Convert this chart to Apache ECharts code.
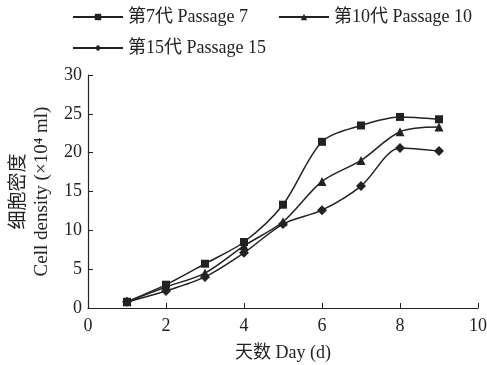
<!DOCTYPE html>
<html><head><meta charset="utf-8">
<script src="https://cdn.jsdelivr.net/npm/echarts@6/dist/echarts.min.js"></script>
<style>html,body{margin:0;padding:0;background:#fff}#c{width:487px;height:365px}</style>
</head><body><div id="c"></div>
<script>
const days = [1, 2, 3, 4, 5, 6, 7, 8, 9];
const passage7 = [0.8, 3.0, 5.7, 8.5, 13.3, 21.4, 23.5, 24.6, 24.3];
const passage10 = [0.8, 2.7, 4.5, 8.0, 11.1, 16.3, 19.0, 22.7, 23.3];
const passage15 = [0.8, 2.2, 4.0, 7.1, 10.8, 12.6, 15.7, 20.6, 20.2];
const seriesNames = ['第7代 Passage 7', '第10代 Passage 10', '第15代 Passage 15'];
const xTicks = [0, 2, 4, 6, 8, 10];
const yTicks = [0, 5, 10, 15, 20, 25, 30];

const font = '"Liberation Serif", "Times New Roman", "Noto Sans CJK SC", serif';
const ink = '#222';
const chart = echarts.init(document.getElementById('c'));
function mk(name, vals, sym, size) {
  return {
    name: name, type: 'line', smooth: 0.3,
    data: days.map((d, i) => [d, vals[i]]),
    symbol: sym, symbolSize: size,
    lineStyle: {color: ink, width: 1.5},
    itemStyle: {color: ink},
    emphasis: {disabled: true}
  };
}
chart.setOption({
  animation: false,
  legend: [
    {data: [seriesNames[0], seriesNames[1]], left: 72, top: 8, padding: 0, itemWidth: 50, itemHeight: 8, itemGap: 30,
     textStyle: {fontFamily: font, fontSize: 18, color: ink}},
    {data: [seriesNames[2]], left: 72, top: 39, padding: 0, itemWidth: 50, itemHeight: 8,
     textStyle: {fontFamily: font, fontSize: 18, color: ink}}
  ],
  grid: {left: 88, right: 9, top: 75, bottom: 57, containLabel: false, outerBoundsMode: 'none'},
  xAxis: {
    type: 'value', min: 0, max: 10, interval: 2,
    name: '天数 Day (d)', nameLocation: 'middle', nameGap: 36,
    nameTextStyle: {fontFamily: font, fontSize: 18, color: ink},
    axisLine: {lineStyle: {color: ink, width: 1.2}},
    axisTick: {inside: true, length: 5, lineStyle: {color: ink}},
    axisLabel: {fontFamily: font, fontSize: 18, color: ink, margin: 9,
      formatter: v => xTicks.includes(v) ? String(v) : ''},
    splitLine: {show: false}
  },
  yAxis: {
    type: 'value', min: 0, max: 30, interval: 5,
    name: '细胞密度\nCell density (×10⁴ ml)', nameLocation: 'middle', nameGap: 32, nameRotate: 90,
    nameTextStyle: {fontFamily: font, fontSize: 19, color: ink, lineHeight: 23},
    axisLine: {show: true, lineStyle: {color: ink, width: 1.2}},
    axisTick: {show: true, inside: true, length: 5, lineStyle: {color: ink}},
    axisLabel: {fontFamily: font, fontSize: 18, color: ink, margin: 6,
      formatter: v => yTicks.includes(v) ? String(v) : ''},
    splitLine: {show: false}
  },
  series: [
    mk(seriesNames[0], passage7, 'rect', 8),
    mk(seriesNames[1], passage10, 'triangle', 9),
    mk(seriesNames[2], passage15, 'diamond', 10)
  ]
});
</script></body></html>
